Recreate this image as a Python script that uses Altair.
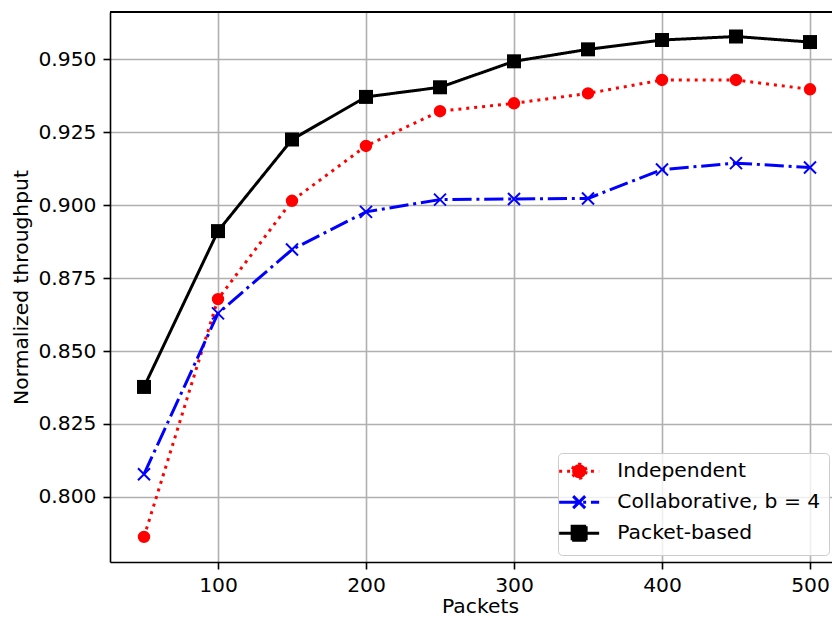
import altair as alt
import pandas as pd

# ---- data ----
packets = [50, 100, 150, 200, 250, 300, 350, 400, 450, 500]
independent = [0.7863, 0.8678, 0.9015, 0.9203, 0.9322, 0.9349, 0.9383, 0.9429, 0.9429, 0.9397]
collaborative = [0.8078, 0.8629, 0.8848, 0.8977, 0.9019, 0.9021, 0.9023, 0.9122, 0.9144, 0.9129]
packet_based = [0.8377, 0.8911, 0.9225, 0.9371, 0.9404, 0.9493, 0.9534, 0.9566, 0.9578, 0.9559]
series_names = ["Independent", "Collaborative, b = 4", "Packet-based"]
x_ticks = [100, 200, 300, 400, 500]
y_ticks = [0.800, 0.825, 0.850, 0.875, 0.900, 0.925, 0.950]

# ---- styles ----
colors = ["#ff0000", "#0000ff", "#000000"]
dashes = [[3, 4.95], [19.2, 4.8, 3, 4.8], [1, 0]]
marker_shapes = ["circle", "M-1,-1L1,1M-1,1L1,-1", "square"]
marker_filled = [True, False, True]
marker_sizes = [154, 144, 196]
legend_paths = [
    "M-2.857,0L2.857,0M1,0A1,1,0,1,1,-1,0A1,1,0,1,1,1,0Z",
    "M-2.857,0L2.857,0M-0.857,-0.857L0.857,0.857M-0.857,0.857L0.857,-0.857",
    "M-2.857,0L2.857,0M-1,-1L1,-1L1,1L-1,1Z",
]

FONT = "DejaVu Sans"
W, H = 722, 550
X_DOMAIN = [27.03, 514.86]
Y_DOMAIN = [0.7777, 0.9662]

rows = []
for name, vals in zip(series_names, [independent, collaborative, packet_based]):
    for p, v in zip(packets, vals):
        rows.append({"Packets": p, "value": v, "series": name})
df = pd.DataFrame(rows)

x_enc = alt.X(
    "Packets:Q",
    scale=alt.Scale(domain=X_DOMAIN, nice=False, zero=False),
    axis=alt.Axis(
        values=x_ticks, format="d", title="Packets",
        titleBaseline="alphabetic", titleY=50, titleX=370, titleAlign="center",
        labelBaseline="alphabetic", labelPadding=22,
    ),
)
y_enc = alt.Y(
    "value:Q",
    scale=alt.Scale(domain=Y_DOMAIN, nice=False, zero=False),
    axis=alt.Axis(
        values=y_ticks, format=".3f", title="Normalized throughput",
        titleAngle=270, titleBaseline="alphabetic", titleX=-83, titleY=H / 2,
        titleAlign="center", labelPadding=7,
    ),
)

base = alt.Chart(df)
layers = []
for i, name in enumerate(series_names):
    sub = base.transform_filter(alt.datum.series == name)
    layers.append(
        sub.mark_line(color=colors[i], strokeDash=dashes[i], strokeWidth=3)
        .encode(x=x_enc, y=y_enc)
    )
    if marker_filled[i]:
        pt = sub.mark_point(shape=marker_shapes[i], filled=True, color=colors[i],
                            size=marker_sizes[i], opacity=1, strokeWidth=0)
    else:
        pt = sub.mark_point(shape=marker_shapes[i], filled=False, color=colors[i],
                            size=marker_sizes[i], opacity=1, strokeWidth=2)
    layers.append(pt.encode(x=x_enc, y=y_enc))

top_spine = alt.Chart(df).mark_rule(color="black", strokeWidth=1.6).encode(
    x=alt.value(0), x2=alt.value(W), y=alt.value(0)
)

leg = alt.Legend(
    title=None, orient="none", legendX=448, legendY=441,
    padding=8, fillColor="rgba(255,255,255,0.8)", strokeColor="#cccccc",
    cornerRadius=4, labelFont=FONT, labelFontSize=20.3, labelColor="black",
    labelLimit=400,
    symbolSize=196, symbolStrokeWidth=3, symbolOffset=3, labelOffset=28,
    rowPadding=5, symbolOpacity=1,
)
legend_layer = (
    alt.Chart(pd.DataFrame({"series": series_names}))
    .transform_filter("false")
    .mark_point(filled=True, size=196, strokeWidth=3, opacity=1)
    .encode(
        fill=alt.Fill("series:N", scale=alt.Scale(domain=series_names, range=colors), legend=leg),
        stroke=alt.Stroke("series:N", scale=alt.Scale(domain=series_names, range=colors), legend=leg),
        strokeDash=alt.StrokeDash("series:N", scale=alt.Scale(domain=series_names, range=dashes), legend=leg),
        shape=alt.Shape("series:N", scale=alt.Scale(domain=series_names, range=legend_paths), legend=leg),
    )
)

chart = (
    alt.layer(*layers, top_spine, legend_layer)
    .properties(
        width=W, height=H,
        autosize=alt.AutoSizeParams(type="none"),
        padding={"left": 102, "top": 4, "right": 0, "bottom": 51},
    )
    .configure_view(stroke=None)
    .configure_axis(
        labelFont=FONT, titleFont=FONT, labelFontSize=20.3, titleFontSize=20.3,
        labelColor="black", titleColor="black", titleFontWeight="normal",
        domainColor="black", domainWidth=1.6, tickColor="black", tickWidth=1.6,
        tickSize=7, grid=True, gridColor="#b0b0b0", gridWidth=1.6,
    )
)

chart.save("out.html", embed_options={"renderer": "svg", "actions": False})
